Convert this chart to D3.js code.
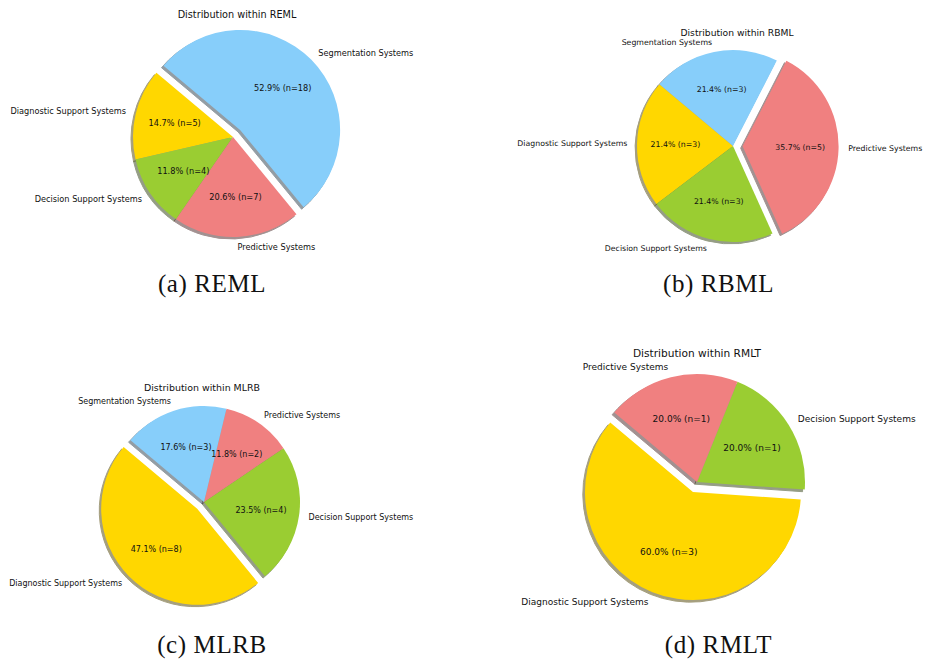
<!DOCTYPE html>
<html>
<head>
<meta charset="utf-8">
<script src="https://cdn.jsdelivr.net/npm/d3@7"></script>
<style>
  body { margin: 0; background: #fff; }
  svg { display: block; }
</style>
</head>
<body>
<svg id="chart" width="925" height="666"></svg>
<script>
// categories and counts per group (order as drawn, counter-clockwise from 140 deg)
var categories = ['Diagnostic Support Systems', 'Decision Support Systems', 'Predictive Systems', 'Segmentation Systems']
var sliceColors = ['#FFD700', '#9ACD32', '#F08080', '#87CEFA']
var remlCounts = [5, 4, 7, 18]
var rbmlCounts = [3, 3, 5, 3]
var mlrbCounts = [8, 4, 2, 3]
var rmltCounts = [3, 1, 1, 0]
var groupNames = ['REML', 'RBML', 'MLRB', 'RMLT']
var captionTags = ['(a)', '(b)', '(c)', '(d)']

var startDeg = 140     // matplotlib startangle
var explodeFrac = 0.1
var shadowOff = 0.02

// layout of each panel
var panels = [
    { counts: remlCounts, cx: 233, cy: 137, r: 100, fs: 8.2, tfs: 9.7,  tx: 237, ty: 14,  capX: 212,   capY: 292 },
    { counts: rbmlCounts, cx: 733, cy: 146, r: 96,  fs: 7.8, tfs: 9.2,  tx: 737, ty: 32,  capX: 718.5, capY: 292 },
    { counts: mlrbCounts, cx: 204, cy: 502, r: 96,  fs: 8.0, tfs: 9.45, tx: 202, ty: 387, capX: 212,   capY: 653 },
    { counts: rmltCounts, cx: 697, cy: 482, r: 108, fs: 9.0, tfs: 10.6, tx: 697, ty: 353, capX: 718.5, capY: 653 }
]

var svg = d3.select('#chart')
var rad = Math.PI / 180

function shade(c) {
    var rgb = d3.rgb(c)
    return d3.rgb(rgb.r * 0.3, rgb.g * 0.3, rgb.b * 0.3).toString()
}

panels.forEach(function(p, i) {
    var rows = categories.map(function(name, k) {
        return { name: name, value: p.counts[k], color: sliceColors[k] }
    }).filter(function(d) { return d.value > 0 })
    var total = d3.sum(rows, function(d) { return d.value })
    var maxVal = d3.max(rows, function(d) { return d.value })

    // d3 angle = 90deg - math angle; counter-clockwise means decreasing d3 angle
    var pie = d3.pie()
        .sort(null)
        .value(function(d) { return d.value })
        .startAngle((90 - startDeg) * rad)
        .endAngle((90 - startDeg - 360) * rad)
    var arcs = pie(rows)
    var arc = d3.arc().innerRadius(0).outerRadius(p.r)

    arcs.forEach(function(a) {
        var mid = (a.startAngle + a.endAngle) / 2
        a.ux = Math.sin(mid)
        a.uy = -Math.cos(mid)
        var ex = a.data.value === maxVal ? explodeFrac * p.r : 0
        a.ox = p.cx + a.ux * ex
        a.oy = p.cy + a.uy * ex
    })

    var g = svg.append('g')

    // shadows first, under all wedges
    g.selectAll('path.shadow')
        .data(arcs)
        .enter().append('path')
        .attr('class', 'shadow')
        .attr('d', arc)
        .attr('transform', function(a) {
            return 'translate(' + (a.ox - shadowOff * p.r) + ',' + (a.oy + shadowOff * p.r) + ')'
        })
        .attr('fill', function(a) { return shade(a.data.color) })
        .attr('stroke', function(a) { return shade(a.data.color) })
        .attr('stroke-width', 1)
        .attr('opacity', 0.5)

    g.selectAll('path.wedge')
        .data(arcs)
        .enter().append('path')
        .attr('class', 'wedge')
        .attr('d', arc)
        .attr('transform', function(a) { return 'translate(' + a.ox + ',' + a.oy + ')' })
        .attr('fill', function(a) { return a.data.color })

    // outer labels
    g.selectAll('text.lbl')
        .data(arcs)
        .enter().append('text')
        .attr('class', 'lbl')
        .attr('x', function(a) { return a.ox + a.ux * 1.1 * p.r })
        .attr('y', function(a) { return a.oy + a.uy * 1.1 * p.r })
        .attr('text-anchor', function(a) { return (a.ox + a.ux * 1.1 * p.r) > p.cx ? 'start' : 'end' })
        .attr('dominant-baseline', 'central')
        .attr('font-family', 'DejaVu Sans')
        .attr('font-size', p.fs)
        .attr('fill', '#111')
        .text(function(a) { return a.data.name })

    // percentage labels
    g.selectAll('text.pct')
        .data(arcs)
        .enter().append('text')
        .attr('class', 'pct')
        .attr('x', function(a) { return a.ox + a.ux * 0.6 * p.r })
        .attr('y', function(a) { return a.oy + a.uy * 0.6 * p.r })
        .attr('text-anchor', 'middle')
        .attr('dominant-baseline', 'central')
        .attr('font-family', 'DejaVu Sans')
        .attr('font-size', p.fs)
        .attr('fill', '#111')
        .text(function(a) {
            return (a.data.value / total * 100).toFixed(1) + '% (n=' + a.data.value + ')'
        })

    g.append('text')
        .attr('x', p.tx)
        .attr('y', p.ty)
        .attr('text-anchor', 'middle')
        .attr('dominant-baseline', 'central')
        .attr('font-family', 'DejaVu Sans')
        .attr('font-size', p.tfs)
        .attr('fill', '#111')
        .text('Distribution within ' + groupNames[i])

    g.append('text')
        .attr('x', p.capX)
        .attr('y', p.capY)
        .attr('text-anchor', 'middle')
        .attr('font-family', 'Liberation Serif')
        .attr('font-size', 25)
        .attr('letter-spacing', 0.6)
        .attr('fill', '#111')
        .text(captionTags[i] + ' ' + groupNames[i])
})
</script>
</body>
</html>
